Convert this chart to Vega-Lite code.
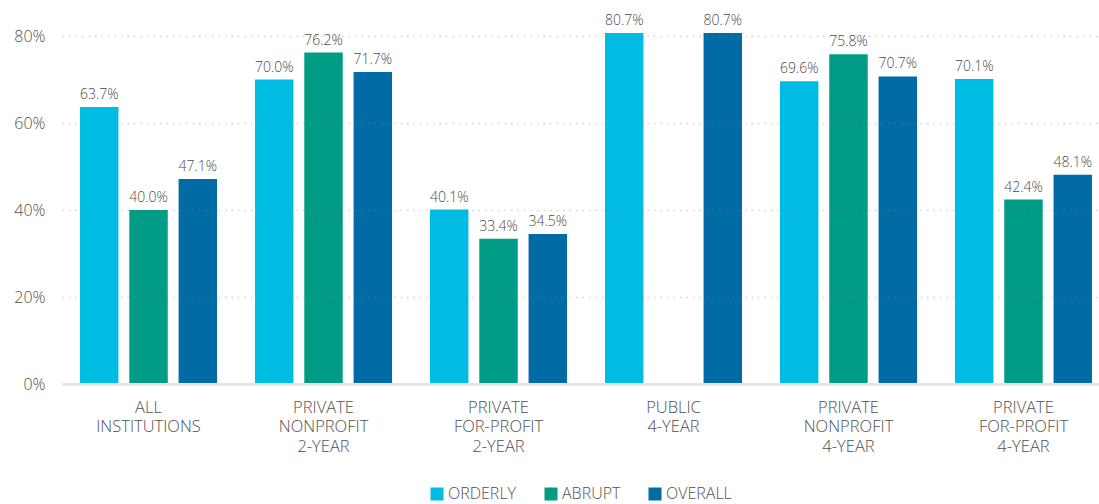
{
  "$schema": "https://vega.github.io/schema/vega-lite/v6.json",
  "width": 1037,
  "height": 348,
  "autosize": "none",
  "padding": {"left": 62, "top": 36, "right": 0, "bottom": 120},
  "background": "white",
  "data": {
    "values": [
      {"group": "ALL|INSTITUTIONS", "series": "ORDERLY", "value": 0.637},
      {"group": "ALL|INSTITUTIONS", "series": "ABRUPT", "value": 0.400},
      {"group": "ALL|INSTITUTIONS", "series": "OVERALL", "value": 0.471},
      {"group": "PRIVATE|NONPROFIT|2-YEAR", "series": "ORDERLY", "value": 0.700},
      {"group": "PRIVATE|NONPROFIT|2-YEAR", "series": "ABRUPT", "value": 0.762},
      {"group": "PRIVATE|NONPROFIT|2-YEAR", "series": "OVERALL", "value": 0.717},
      {"group": "PRIVATE|FOR-PROFIT|2-YEAR", "series": "ORDERLY", "value": 0.401},
      {"group": "PRIVATE|FOR-PROFIT|2-YEAR", "series": "ABRUPT", "value": 0.334},
      {"group": "PRIVATE|FOR-PROFIT|2-YEAR", "series": "OVERALL", "value": 0.345},
      {"group": "PUBLIC|4-YEAR", "series": "ORDERLY", "value": 0.807},
      {"group": "PUBLIC|4-YEAR", "series": "OVERALL", "value": 0.807},
      {"group": "PRIVATE|NONPROFIT|4-YEAR", "series": "ORDERLY", "value": 0.696},
      {"group": "PRIVATE|NONPROFIT|4-YEAR", "series": "ABRUPT", "value": 0.758},
      {"group": "PRIVATE|NONPROFIT|4-YEAR", "series": "OVERALL", "value": 0.707},
      {"group": "PRIVATE|FOR-PROFIT|4-YEAR", "series": "ORDERLY", "value": 0.701},
      {"group": "PRIVATE|FOR-PROFIT|4-YEAR", "series": "ABRUPT", "value": 0.424},
      {"group": "PRIVATE|FOR-PROFIT|4-YEAR", "series": "OVERALL", "value": 0.481}
    ]
  },
  "encoding": {
    "x": {
      "field": "group",
      "type": "nominal",
      "sort": null,
      "title": null,
      "scale": {"paddingInner": 0.217, "paddingOuter": 0.0715, "align": 0.72},
      "axis": {
        "labelExpr": "split(datum.label, '|')",
        "labelAngle": 0,
        "labelFont": "Open Sans",
        "labelFontWeight": 300,
        "labelFontSize": 16.5,
        "labelColor": "#505050",
        "labelLineHeight": 19.5,
        "labelPadding": 15,
        "labelOverlap": false,
        "labelBound": false,
        "ticks": false,
        "domainColor": "#e6e6e6",
        "domainWidth": 3,
        "zindex": 1,
        "grid": false
      }
    },
    "xOffset": {
      "field": "series",
      "type": "nominal",
      "sort": ["ORDERLY", "ABRUPT", "OVERALL"],
      "scale": {"paddingInner": 0.22, "paddingOuter": 0}
    },
    "y": {
      "field": "value",
      "type": "quantitative",
      "title": null,
      "scale": {"domain": [0, 0.8], "nice": false},
      "axis": {
        "format": ".0%",
        "values": [0, 0.2, 0.4, 0.6, 0.8],
        "labelFont": "Open Sans",
        "labelFontWeight": 300,
        "labelFontSize": 16,
        "labelColor": "#505050",
        "labelPadding": 17,
        "ticks": false,
        "domain": false,
        "grid": true,
        "gridColor": "#888888",
        "gridOpacity": 0.35,
        "gridWidth": 1.5,
        "gridDash": [1.5, 5],
        "zindex": 1
      }
    },
    "color": {
      "field": "series",
      "type": "nominal",
      "sort": ["ORDERLY", "ABRUPT", "OVERALL"],
      "scale": {
        "domain": ["ORDERLY", "ABRUPT", "OVERALL"],
        "range": ["#00BCE3", "#009C86", "#006BA5"]
      },
      "legend": {
        "title": null,
        "orient": "bottom",
        "direction": "horizontal",
        "offset": 31,
        "symbolType": "square",
        "symbolSize": 169,
        "symbolStrokeWidth": 0,
        "symbolOpacity": 1,
        "labelFont": "Open Sans",
        "labelFontWeight": 300,
        "labelFontSize": 16,
        "labelColor": "#505050",
        "labelOffset": 3,
        "columnPadding": 26
      }
    }
  },
  "layer": [
    {"mark": {"type": "bar", "opacity": 1}},
    {
      "mark": {
        "type": "text",
        "baseline": "bottom",
        "dy": -5,
        "font": "Open Sans",
        "fontWeight": 300,
        "fontSize": 14,
        "color": "#4a4a4a"
      },
      "encoding": {
        "text": {"field": "value", "type": "quantitative", "format": ".1%"},
        "color": {"value": "#4a4a4a"}
      }
    }
  ],
  "config": {
    "view": {"stroke": null},
    "legend": {"layout": {"bottom": {"anchor": "middle"}}}
  }
}
